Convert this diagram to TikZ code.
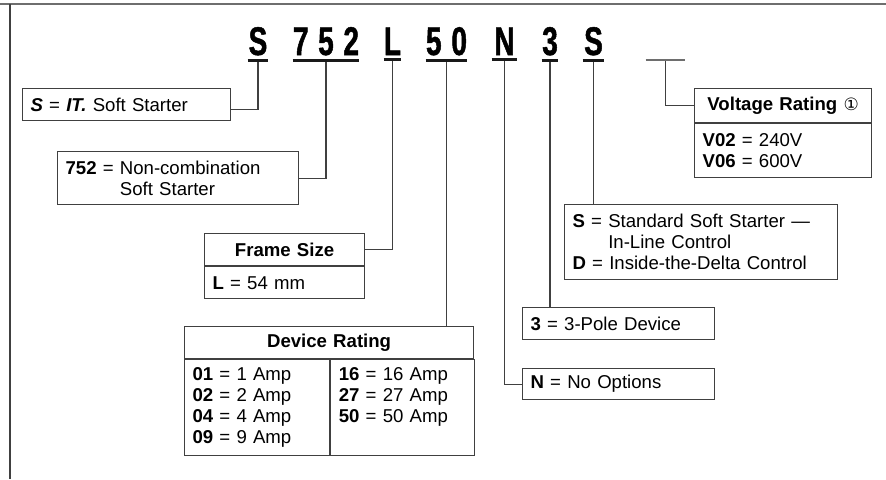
\documentclass[tikz,border=0pt]{standalone}
\usepackage{fontspec}
\setmainfont{Liberation Sans}
\newfontfamily\codefont[FakeStretch=0.7, FakeBold=1.2]{Liberation Sans}
\newfontfamily\symfont{DejaVu Sans}
\usetikzlibrary{positioning}
\definecolor{linegray}{HTML}{404040}
\definecolor{framegray}{HTML}{6E6E6E}

\begin{document}
\begin{tikzpicture}[x=0.5pt, y=-0.5pt,
    codeltr/.style = {inner sep=0pt, anchor=base, font=\codefont\bfseries\fontsize{20}{20}\selectfont},
    uline/.style = {line width=1.6pt, draw=black!90},
    lead/.style = {draw=linegray, line width=0.6pt},
    entry/.style = {draw=linegray, line width=0.6pt, anchor=north west, inner xsep=4pt, inner ysep=0pt, align=left, font=\fontsize{9.3}{10.5}\selectfont},
    headbox/.style = {entry, align=center, font=\fontsize{9.3}{10.5}\selectfont\bfseries}
]
\useasboundingbox (0,0) rectangle (886,479);

% Frame
\draw [framegray, line width=1pt] (0,4) -- (886,4);
\draw [linegray, line width=0.6pt] (10,4) -- (10,479);

% Catalog number
\node (cS) [codeltr, minimum width=10pt] at (258,55) {S};
\node (c752) [codeltr, minimum width=33pt] at (326,55) {\makebox[33pt][s]{7\hfill5\hfill2}};
\node (cL) [codeltr, minimum width=8.5pt] at (392.5,55) {L};
\node (c50) [codeltr, minimum width=20.5pt] at (446.5,55) {\makebox[20.5pt][s]{5\hfill0}};
\node (cN) [codeltr, minimum width=12.5pt] at (504.5,55) {N};
\node (c3) [codeltr, minimum width=8pt] at (550,55) {3};
\node (cS2) [codeltr, minimum width=10.5pt] at (593.5,55) {S};
\node (cV) [codeltr, minimum width=19.5pt] at (665.5,55) {};

\foreach \c in {cS, c752, cL, c50, cN, c3, cS2}
    \draw [uline] ([yshift=-2.2pt]\c.south west) -- ([yshift=-2.2pt]\c.south east);
\draw [framegray, line width=1pt] ([yshift=-2pt]cV.south west) -- ([yshift=-2pt]cV.south east);

% Description boxes
\node (bS) [entry, text width=96pt, minimum height=16pt] at (22,88) {\textbf{\textit{S}} = \textbf{\textit{IT.}} Soft Starter};
\node (b752) [entry, text width=112.5pt, minimum height=26.5pt] at (57,151) {\textbf{752} = Non-combination\\\phantom{\textbf{752} = }Soft Starter};

\node (fsHead) [headbox, text width=72pt, minimum height=16pt] at (204,233) {Frame Size};
\node (fsBody) [entry, text width=72pt, minimum height=16pt, below right=0pt of fsHead.south west] {\textbf{L} = 54 mm};

\node (devHead) [headbox, text width=136.5pt, minimum height=16pt] at (184,326) {Device Rating};
\node (devL) [entry, text width=64.5pt, minimum height=48pt, below right=0pt of devHead.south west] {\textbf{01} = 1 Amp\\\textbf{02} = 2 Amp\\\textbf{04} = 4 Amp\\\textbf{09} = 9 Amp};
\node (devR) [entry, text width=64pt, minimum height=48pt, below right=0pt of devL.north east] {\textbf{16} = 16 Amp\\\textbf{27} = 27 Amp\\\textbf{50} = 50 Amp\\\vphantom{p}};

\node (nBox) [entry, text width=88pt, minimum height=15.5pt] at (522,368) {\textbf{N} = No Options};
\node (pBox) [entry, text width=88pt, minimum height=16pt] at (522,307) {\textbf{3} = 3-Pole Device};

\node (sdBox) [entry, text width=128.5pt, minimum height=37.5pt] at (564,204) {\textbf{S} = Standard Soft Starter ---\\\phantom{\textbf{S} = }In-Line Control\\\textbf{D} = Inside-the-Delta Control};

\node (vHead) [headbox, text width=80.5pt, minimum height=17pt] at (694,88) {Voltage Rating {\mdseries\symfont\fontsize{8.5}{8.5}\selectfont ①}};
\node (vBody) [entry, text width=80.5pt, minimum height=27pt, below right=0pt of vHead.south west] {\textbf{V02} = 240V\\\textbf{V06} = 600V};

% Leaders
\draw [lead] ([yshift=-3pt]cS.south) |- ([yshift=-2.3pt]bS.east);
\draw [lead] ([yshift=-3pt]c752.south) |- (b752.east);
\draw [lead] ([yshift=-3pt]cL.south) |- (fsHead.east);
\draw [lead] ([yshift=-3pt]c50.south) -- (c50.south |- devHead.north);
\draw [lead] ([yshift=-3pt]cN.south) |- (nBox.west);
\draw [lead] ([yshift=-3pt]c3.south) -- (c3.south |- pBox.north);
\draw [lead] ([yshift=-3pt]cS2.south) -- (cS2.south |- sdBox.north);
\draw [lead] ([yshift=-2.5pt]cV.south) |- (vHead.west);

\end{tikzpicture}
\end{document}
